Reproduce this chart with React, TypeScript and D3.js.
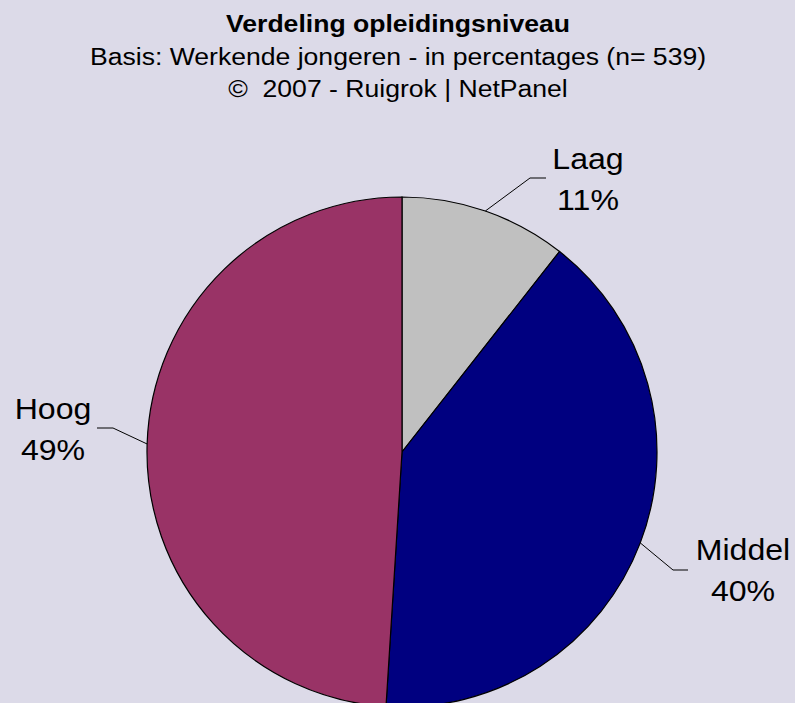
import React, { useEffect, useRef } from 'react';
import * as d3 from 'd3';

const categories = ['Laag', 'Middel', 'Hoog'];
const values = [10.6, 40.4, 49.0];
const valueLabels = ['11%', '40%', '49%'];
const colors = ['#C0C0C0', '#000080', '#993366'];

const titleLines = [
  'Verdeling opleidingsniveau',
  'Basis: Werkende jongeren - in percentages (n= 539)',
  '©  2007 - Ruigrok | NetPanel',
];
const titleBaselines = [32, 65, 97];

// where each label sits, relative to the pie centre
const labelSpots = [
  { elbow: [128, -274], end: [144, -274], text: [186, -283] },
  { elbow: [271, 118], end: [286, 118], text: [341, 108] },
  { elbow: [-289, -24], end: [-305, -24], text: [-349, -33] },
];

const App = () => {
  const ref = useRef(null);

  useEffect(() => {
    if (!ref.current) return;
    const width = 795;
    const height = 703;
    const cx = 402;
    const cy = 452;
    const radius = 255;
    const font = 'Liberation Sans, Arial, sans-serif';

    const svg = d3.select(ref.current);
    svg.selectAll('*').remove();
    svg.attr('width', width).attr('height', height);

    svg.append('rect')
      .attr('width', width)
      .attr('height', height)
      .attr('fill', '#DCDAE8');

    // the original text is a little wider than it is tall
    svg.selectAll('.title')
      .data(titleLines)
      .enter().append('text')
        .attr('class', 'title')
        .attr('transform', (d, i) => `translate(398,${titleBaselines[i]}) scale(1.085,1)`)
        .attr('text-anchor', 'middle')
        .style('font-family', font)
        .style('font-size', '24.5px')
        .style('white-space', 'pre')
        .style('font-weight', (d, i) => (i === 0 ? 'bold' : 'normal'))
        .text(d => d);

    const data = categories.map((c, i) => ({ name: c, value: values[i], i }));

    const pie = d3.pie().sort(null).value(d => d.value);
    const arc = d3.arc().innerRadius(0).outerRadius(radius);
    const edge = d3.arc().innerRadius(radius).outerRadius(radius);

    const g = svg.append('g').attr('transform', `translate(${cx},${cy})`);
    const slices = pie(data);

    g.selectAll('path')
      .data(slices)
      .enter().append('path')
        .attr('d', arc)
        .attr('fill', d => colors[d.data.i])
        .attr('stroke', '#000')
        .attr('stroke-width', 1.2);

    slices.forEach(s => {
      const spot = labelSpots[s.data.i];
      const p = edge.centroid(s);
      g.append('polyline')
        .attr('points', [p, spot.elbow, spot.end].map(q => q.join(',')).join(' '))
        .attr('fill', 'none')
        .attr('stroke', '#000')
        .attr('stroke-width', 1);
      const t = g.append('text')
        .attr('transform', `translate(${spot.text[0]},${spot.text[1]}) scale(1.07,1)`)
        .attr('text-anchor', 'middle')
        .style('font-family', font)
        .style('font-size', '30px');
      t.append('tspan').attr('x', 0).attr('y', 0).text(s.data.name);
      t.append('tspan').attr('x', 0).attr('y', 41).text(valueLabels[s.data.i]);
    });
  }, []);

  return <svg ref={ref} style={{ position: 'absolute', left: 0, top: 0 }} />;
};

export default App;
